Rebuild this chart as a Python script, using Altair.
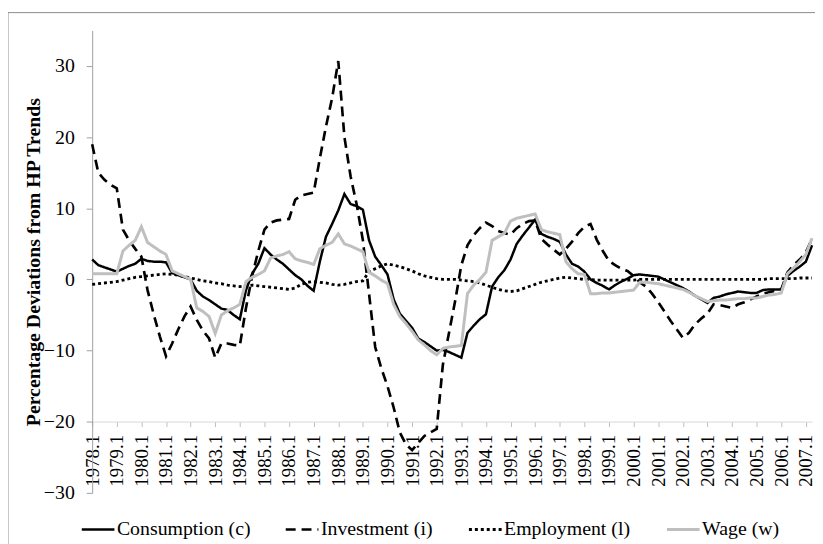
import altair as alt
import pandas as pd

years = list(range(1978, 2008))
quarters = [f"{y}.{q}" for y in years for q in (1, 2, 3, 4)][:118]

tick_labels = ["1978.1", "1979.1", "1980.1", "1981.1", "1982.1", "1983.1", "1984.1",
               "1985.1", "1986.1", "1987.1", "1988.1", "1989.1", "1990.1", "1991.1",
               "1992.1", "1993.1", "1994.1", "1995.1", "1996.1", "1997.1", "1998.1",
               "1999.1", "2000.1", "2001.1", "2002.1", "2003.1", "2004.1", "2005.1",
               "2006.1", "2007.1"]

series_names = ["Consumption (c)", "Investment (i)", "Employment (l)", "Wage (w)"]

consumption = [
    2.8, 2.0, 1.7, 1.4,
    1.1, 1.5, 1.9, 2.2,
    2.9, 2.6, 2.5, 2.5,
    2.4, 0.9, 0.6, 0.3,
    0.0, -1.6, -2.4, -2.9,
    -3.5, -4.1, -4.3, -5.0,
    -5.6, -1.5, 0.8, 2.2,
    4.4, 3.5, 2.8, 2.2,
    1.4, 0.6, 0.0, -0.9,
    -1.6, 2.5, 6.0, 7.8,
    9.7, 12.0, 10.6, 10.3,
    9.8, 5.5, 3.2, 2.0,
    0.7, -2.8, -4.8, -5.8,
    -6.8, -8.3, -8.8, -9.4,
    -10.0, -9.9, -10.2, -10.6,
    -11.0, -7.5, -6.5, -5.6,
    -4.9, -1.0, 0.3, 1.3,
    2.8, 5.0, 6.2, 7.3,
    8.4, 6.4, 6.0, 5.7,
    5.3, 3.5, 2.2, 1.8,
    1.1, 0.0, -0.5, -0.9,
    -1.4, -0.8, -0.3, 0.1,
    0.6, 0.7, 0.6, 0.5,
    0.4, 0.0, -0.4, -0.8,
    -1.2, -1.7, -2.3, -2.8,
    -3.3, -2.6, -2.4, -2.1,
    -1.9, -1.7, -1.8, -1.9,
    -1.9, -1.5, -1.4, -1.4,
    -1.4, 0.5, 1.2, 1.8,
    2.5, 4.8,
]

investment = [
    19.0, 15.0, 14.0, 13.3,
    12.8, 7.0, 5.5, 4.3,
    3.2, -1.5, -4.9, -8.0,
    -10.8, -9.0, -7.0, -5.2,
    -3.8, -5.7, -7.2, -8.3,
    -11.0, -9.0, -9.0, -9.2,
    -9.3, -4.0, 0.5, 4.0,
    7.0, 8.0, 8.3, 8.4,
    8.5, 11.2, 11.8, 12.0,
    12.2, 17.0, 21.5, 25.5,
    30.7, 20.0, 14.5, 10.5,
    5.5, -2.0, -9.5, -12.5,
    -15.0, -18.0, -21.5, -23.2,
    -24.0, -23.0, -22.0, -21.5,
    -21.0, -12.0, -7.5, -3.0,
    2.0, 4.8, 6.2, 7.2,
    8.0, 7.5, 6.8, 6.5,
    6.3, 7.2, 7.8, 8.2,
    8.3, 5.7, 4.9, 4.2,
    3.5, 4.3, 5.3, 6.5,
    7.4, 7.8, 5.6, 4.0,
    2.6, 2.0, 1.5, 1.2,
    0.5, -0.4, -1.0, -2.0,
    -3.2, -4.5, -5.8, -7.0,
    -8.2, -7.5, -6.3, -5.5,
    -4.8, -3.5, -3.6, -3.8,
    -4.0, -3.5, -3.2, -2.8,
    -2.4, -2.0, -1.8, -1.6,
    -1.4, 1.0, 2.0, 2.8,
    3.8, 5.7,
]

employment = [
    -0.7, -0.6, -0.5, -0.4,
    -0.3, -0.1, 0.1, 0.3,
    0.4, 0.5, 0.6, 0.7,
    0.8, 0.7, 0.6, 0.4,
    0.2, 0.0, -0.2, -0.3,
    -0.5, -0.6, -0.8, -0.9,
    -1.0, -0.9, -0.8, -0.9,
    -1.0, -1.1, -1.2, -1.3,
    -1.4, -1.2, -0.7, -0.4,
    -0.3, -0.4, -0.5, -0.7,
    -0.8, -0.7, -0.5, -0.3,
    -0.2, 1.1, 1.5, 1.9,
    2.2, 2.0, 1.8, 1.5,
    1.2, 0.8, 0.5, 0.3,
    0.1, 0.0, 0.0, 0.0,
    -0.1, -0.2, -0.3, -0.5,
    -0.8, -1.1, -1.4, -1.6,
    -1.7, -1.6, -1.3, -1.0,
    -0.7, -0.4, -0.2, 0.0,
    0.2, 0.3, 0.2, 0.1,
    0.0, 0.0, -0.1, -0.1,
    -0.1, -0.1, -0.1, -0.1,
    -0.1, 0.0, 0.0, 0.0,
    0.0, 0.0, 0.0, 0.0,
    0.0, 0.0, 0.0, 0.0,
    0.0, 0.0, 0.0, 0.0,
    0.0, 0.0, 0.0, 0.0,
    0.0, 0.0, 0.1, 0.1,
    0.1, 0.1, 0.1, 0.2,
    0.2, 0.2,
]

wage = [
    0.8, 0.8, 0.8, 0.8,
    0.8, 4.0, 4.8, 5.5,
    7.4, 5.2, 4.6, 4.0,
    3.5, 1.2, 0.8, 0.4,
    0.0, -4.0, -4.5, -5.2,
    -7.6, -5.0, -4.4, -4.0,
    -3.5, -0.3, 0.3, 0.7,
    1.2, 3.0, 3.3, 3.5,
    3.9, 2.9, 2.6, 2.4,
    2.1, 4.3, 4.8, 5.2,
    6.4, 5.0, 4.7, 4.3,
    3.9, 1.0, 0.5, -0.1,
    -0.6, -3.5, -5.2, -6.2,
    -7.3, -8.5, -9.2, -10.0,
    -10.6, -9.7, -9.5, -9.4,
    -9.3, -2.0, -0.8, 0.0,
    1.0, 5.5, 6.0, 6.5,
    8.2, 8.6, 8.8, 9.0,
    9.2, 7.0, 6.7, 6.5,
    6.3, 2.5, 1.5, 0.8,
    0.7, -2.0, -2.0, -1.9,
    -1.9, -1.8, -1.7, -1.6,
    -1.5, -0.4, -0.4, -0.5,
    -0.6, -0.8, -1.0, -1.2,
    -1.4, -1.8, -2.3, -2.7,
    -3.1, -3.0, -2.9, -2.9,
    -2.8, -2.7, -2.7, -2.6,
    -2.6, -2.4, -2.2, -2.1,
    -1.9, 0.8, 1.6, 2.5,
    3.5, 5.8,
]

rows = []
for name, vals in zip(series_names, [consumption, investment, employment, wage]):
    for q, v in zip(quarters, vals):
        rows.append({"quarter": q, "value": v, "series": name})
df = pd.DataFrame(rows)

FONT = "Liberation Serif"

lines = alt.Chart(df).mark_line(strokeCap="butt", strokeJoin="miter").encode(
    x=alt.X("quarter:O", sort=quarters,
            scale=alt.Scale(type="point", padding=0),
            axis=alt.Axis(values=tick_labels, labelAngle=-90, offset=-72,
                          tickSize=5, domainColor="#d9d9d9", tickColor="#bfbfbf",
                          labelFont=FONT, labelFontSize=19, labelColor="#000000",
                          labelPadding=8, title=None, grid=False)),
    y=alt.Y("value:Q", scale=alt.Scale(domain=[-30, 35], nice=False, zero=False),
            axis=alt.Axis(values=[-30, -20, -10, 0, 10, 20, 30],
                          title="Percentage Deviations from HP Trends",
                          titleFont=FONT, titleFontSize=20, titleFontWeight="bold",
                          titleColor="#000000", titlePadding=0,
                          labelFont=FONT, labelFontSize=20, labelColor="#000000",
                          labelPadding=12, tickSize=6,
                          domainColor="#a0a0a0", tickColor="#a0a0a0", grid=False)),
    color=alt.Color("series:N", sort=series_names,
                    scale=alt.Scale(domain=series_names,
                                    range=["#000000", "#000000", "#000000", "#bfbfbf"]),
                    legend=alt.Legend(title=None, orient="none", legendX=-12, legendY=486,
                                      direction="horizontal", symbolType="stroke",
                                      symbolSize=1089, symbolStrokeWidth=2.5,
                                      labelFont=FONT, labelFontSize=20,
                                      labelColor="#000000", labelOffset=1,
                                      columnPadding=30, padding=0)),
    strokeDash=alt.StrokeDash("series:N", sort=series_names,
                              scale=alt.Scale(domain=series_names,
                                              range=[[1, 0], [10, 6], [3, 3], [1, 0]])),
    strokeWidth=alt.StrokeWidth("series:N",
                                scale=alt.Scale(domain=series_names,
                                                range=[2.5, 3, 3, 1.8]),
                                legend=None),
)

frame = alt.Chart(pd.DataFrame({"f": [0]})).mark_rect(
    fillOpacity=0, stroke="#8c8c8c", strokeWidth=1
).encode(x=alt.value(-85), x2=alt.value(800), y=alt.value(-18), y2=alt.value(600))

chart = alt.layer(frame, lines).properties(
    width=727, height=467,
    padding={"left": 85, "top": 20, "right": 3, "bottom": 49},
    autosize=alt.AutoSizeParams(type="none"),
).configure_view(stroke=None)

chart.save("out.html", embed_options={"renderer": "svg", "actions": False})
